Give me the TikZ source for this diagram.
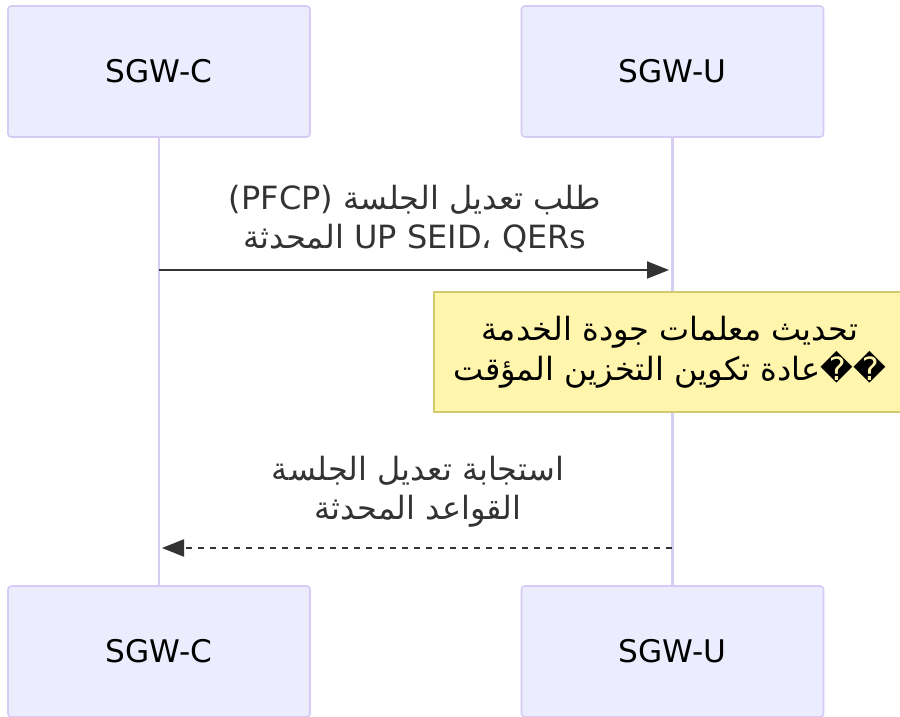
\documentclass[tikz,border=0pt]{standalone}
\usepackage{fontspec}
\setmainfont{DejaVu Sans}
\newfontfamily\arabicfont[Script=Arabic]{DejaVu Sans}
\TeXXeTstate=1
\usetikzlibrary{arrows.meta,positioning}
\definecolor{actorfill}{HTML}{ECECFF}
\definecolor{actorline}{HTML}{D6CBF4}
\definecolor{lifecol}{HTML}{D7CCF4}
\definecolor{notefill}{HTML}{FFF5AD}
\definecolor{noteline}{HTML}{CFCB6E}
\definecolor{msgcol}{HTML}{333333}
\newcommand{\arline}[1]{\beginR #1\endR}
\newcommand{\latn}[1]{\beginL{\rmfamily #1}\endL}
\tikzset{
actorbox/.style={rectangle,rounded corners=2.5pt,draw=actorline,line width=1.2pt,fill=actorfill,
  minimum width=226.5pt,minimum height=98.25pt,align=center,font=\fontsize{23.4}{29}\selectfont},
lifeline/.style={draw=lifecol,line width=1.9pt},
msglabel/.style={align=center,text=msgcol,font=\arabicfont\fontsize{24}{29.25}\selectfont},
msgarr/.style={draw=msgcol,line width=1.5pt,-{Triangle[length=16.5pt,width=12.75pt]}},
replyarr/.style={msgarr,dash pattern=on 4.5pt off 4.5pt},
notebox/.style={rectangle,draw=noteline,line width=1.2pt,fill=notefill,
  minimum width=354pt,minimum height=90pt,align=center,font=\arabicfont\fontsize{24}{30}\selectfont}
}
\begin{document}
\begin{tikzpicture}[x=0.75pt,y=-0.75pt]
\useasboundingbox (0,0) rectangle (900,717);
\fill[white] (0,0) rectangle (900,717);
% actors
\node[actorbox] (ctop) at (159,71.5) {SGW-C};
\node[actorbox] (utop) at (672.5,71.5) {SGW-U};
\node[actorbox] (cbot) at (159,651.5) {SGW-C};
\node[actorbox] (ubot) at (672.5,651.5) {SGW-U};
\foreach \a/\b in {ctop/cbot,utop/ubot} \draw[lifeline] (\a) -- (\b);
% messages
\coordinate (reqfrom) at (159,270);
\coordinate (reqto) at (669,270);
\coordinate (resfrom) at (672,548);
\coordinate (resto) at (162,548);
\node[msglabel] (reqtext) at (415,219)
  {\arline{طلب تعديل الجلسة \latn{(PFCP)}}\\\arline{\latn{UP SEID، QERs}{} المحدثة}};
\draw[msgarr] (reqfrom) -- (reqto);
\node[notebox] (qosnote) at (670,352)
  {\arline{تحديث معلمات جودة الخدمة}\\\arline{��عادة تكوين التخزين المؤقت}};
\node[msglabel] (restext) at (418,492)
  {\arline{استجابة تعديل الجلسة}\\\arline{القواعد المحدثة}};
\draw[replyarr] (resfrom) -- (resto);
\end{tikzpicture}
\end{document}
